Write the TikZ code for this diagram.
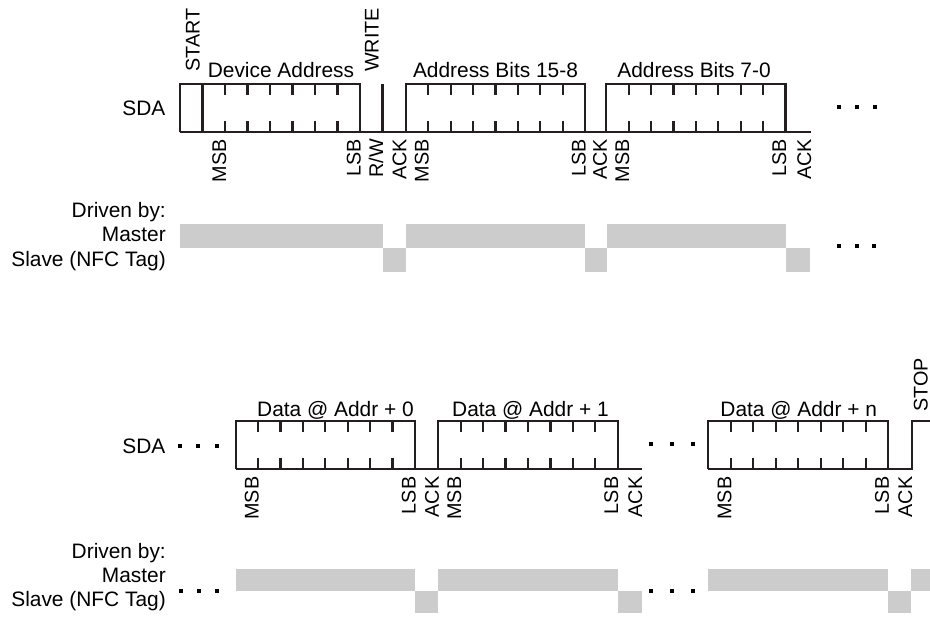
\documentclass[tikz,border=0pt]{standalone}
\usepackage{fontspec}
\setmainfont{Liberation Sans}
\definecolor{busgray}{RGB}{204,204,204}
\definecolor{linec}{RGB}{35,31,32}
\begin{document}
\begin{tikzpicture}[x=1pt,y=-1pt,
  sig/.style={draw=linec,line width=2.2pt,line join=miter},
  tickmark/.style={draw=linec,line width=2.2pt},
  hlab/.style={inner sep=0pt,font=\fontsize{20.9}{25}\selectfont,anchor=base},
  rlab/.style={inner sep=0pt,font=\fontsize{20.9}{25}\selectfont,anchor=base east},
  vlab/.style={inner sep=0pt,font=\fontsize{19.8}{24}\selectfont,rotate=90,anchor=base east},
  vlabup/.style={inner sep=0pt,font=\fontsize{19.8}{24}\selectfont,rotate=90,anchor=base west},
  dotsq/.style={rectangle,fill=black,minimum size=4pt,inner sep=0pt,draw=none},
  master/.style={fill=busgray},
  slave/.style={fill=busgray}]
\useasboundingbox (0,0) rectangle (930,619);

% ================= TOP SDA =================
\node[rlab] (sda1) at (165.5,115.7) {SDA};
\draw[sig] (180,132) -- (810.7,132);
\draw[sig] (180,132) -- (180,84) -- (360,84) -- (360,132);
\draw[sig] (202.5,84) -- (202.5,132);
\draw[sig] (382.5,84) -- (382.5,132);
\draw[sig] (405.8,132) -- (405.8,84) -- (585,84) -- (585,132);
\draw[sig] (606.3,132) -- (606.3,84) -- (785.5,84) -- (785.5,132);
\foreach \i in {1,...,6} {
  \draw[tickmark] ({202.5+\i*22.5},84) -- ++(0,11) ({202.5+\i*22.5},132) -- ++(0,-11);
}
\foreach \l in {405.8,606.3} {
  \foreach \i in {1,...,7} {
    \draw[tickmark] ({\l+\i*22.4},84) -- ++(0,11) ({\l+\i*22.4},132) -- ++(0,-11);
  }
}
\node[vlabup] (start) at (199.5,72) {START};
\node[vlabup] (write) at (378.5,72) {WRITE};
\node[hlab] (devaddr) at (281,77) {Device Address};
\node[hlab] (addrhi) at (495.5,77.5) {Address Bits 15-8};
\node[hlab] (addrlo) at (694,77.5) {Address Bits 7-0};
\node[vlab] (t1) at (226,139) {MSB};
\node[vlab] (t2) at (360.5,139) {LSB};
\node[vlab] (t3) at (383,139) {R/W};
\node[vlab] (t4) at (406.3,139) {ACK};
\node[vlab] (t5) at (428.7,139) {MSB};
\node[vlab] (t6) at (585.5,139) {LSB};
\node[vlab] (t7) at (606.8,139) {ACK};
\node[vlab] (t8) at (629.2,139) {MSB};
\node[vlab] (t9) at (786,139) {LSB};
\node[vlab] (t10) at (811,139) {ACK};
\node[dotsq] (da1) at (839.3,106.7) {};
\node[dotsq] (da2) at (857.3,106.7) {};
\node[dotsq] (da3) at (875,106.7) {};

% ================= TOP DRIVEN BY =================
\node[rlab] (drv1) at (166,217) {Driven by:};
\node[rlab] (mst1) at (166,241.5) {Master};
\node[rlab] (slv1) at (166,266) {Slave (NFC Tag)};
\fill[master] (180,224.3) rectangle (382.5,248);
\fill[slave] (382.5,248) rectangle (405.5,271.7);
\fill[master] (405.5,224.3) rectangle (585,248);
\fill[slave] (585,248) rectangle (607,271.7);
\fill[master] (607,224.3) rectangle (786,248);
\fill[slave] (786,248) rectangle (810,271.7);
\node[dotsq] (db1) at (839.3,246) {};
\node[dotsq] (db2) at (856.7,246) {};
\node[dotsq] (db3) at (874.3,246) {};

% ================= BOTTOM SDA =================
\node[rlab] (sda2) at (165.5,453.3) {SDA};
\node[dotsq] (dc1) at (180,445.7) {};
\node[dotsq] (dc2) at (198,445.7) {};
\node[dotsq] (dc3) at (216.7,445.7) {};
\draw[sig] (235.7,469) -- (641.7,469);
\draw[sig] (235.7,469) -- (235.7,421) -- (415,421) -- (415,469);
\draw[sig] (438.3,469) -- (438.3,421) -- (617.7,421) -- (617.7,469);
\draw[sig] (708.3,469) -- (911.7,469) -- (911.7,421) -- (932,421);
\draw[sig] (708.3,469) -- (708.3,421) -- (888.3,421) -- (888.3,469);
\foreach \l/\w in {235.7/22.4,438.3/22.42,708.3/22.5} {
  \foreach \i in {1,...,7} {
    \draw[tickmark] ({\l+\i*\w},421) -- ++(0,11) ({\l+\i*\w},469) -- ++(0,-11);
  }
}
\node[dotsq] (dd1) at (650.7,444) {};
\node[dotsq] (dd2) at (671.7,444) {};
\node[dotsq] (dd3) at (693.3,444) {};
\node[hlab] (data0) at (335.5,416) {Data @ Addr + 0};
\node[hlab] (data1) at (530.5,416) {Data @ Addr + 1};
\node[hlab] (datan) at (798.7,416) {Data @ Addr + n};
\node[vlabup] (stop) at (927.5,412) {STOP};
\node[vlab] (b1) at (258.6,476.5) {MSB};
\node[vlab] (b2) at (415.5,476.5) {LSB};
\node[vlab] (b3) at (438.8,476.5) {ACK};
\node[vlab] (b4) at (461.2,476.5) {MSB};
\node[vlab] (b5) at (618.2,476.5) {LSB};
\node[vlab] (b6) at (642.2,476.5) {ACK};
\node[vlab] (b7) at (731.3,476.5) {MSB};
\node[vlab] (b8) at (888.8,476.5) {LSB};
\node[vlab] (b9) at (912.2,476.5) {ACK};

% ================= BOTTOM DRIVEN BY =================
\node[rlab] (drv2) at (166,558) {Driven by:};
\node[rlab] (mst2) at (166,582.5) {Master};
\node[rlab] (slv2) at (166,606.5) {Slave (NFC Tag)};
\node[dotsq] (de1) at (181,591) {};
\node[dotsq] (de2) at (199,591) {};
\node[dotsq] (de3) at (216.7,591) {};
\fill[master] (236,569.3) rectangle (415,590.7);
\fill[slave] (415,590.7) rectangle (438.3,612.7);
\fill[master] (438.3,569.3) rectangle (617.7,590.7);
\fill[slave] (617.7,590.7) rectangle (641.7,612.7);
\node[dotsq] (df1) at (650.7,591) {};
\node[dotsq] (df2) at (671.7,591) {};
\node[dotsq] (df3) at (693.3,591) {};
\fill[master] (707.7,569.3) rectangle (887.7,590.7);
\fill[slave] (887.7,590.7) rectangle (911,612.7);
\fill[master] (911,569.3) rectangle (930,590.7);
\end{tikzpicture}
\end{document}
